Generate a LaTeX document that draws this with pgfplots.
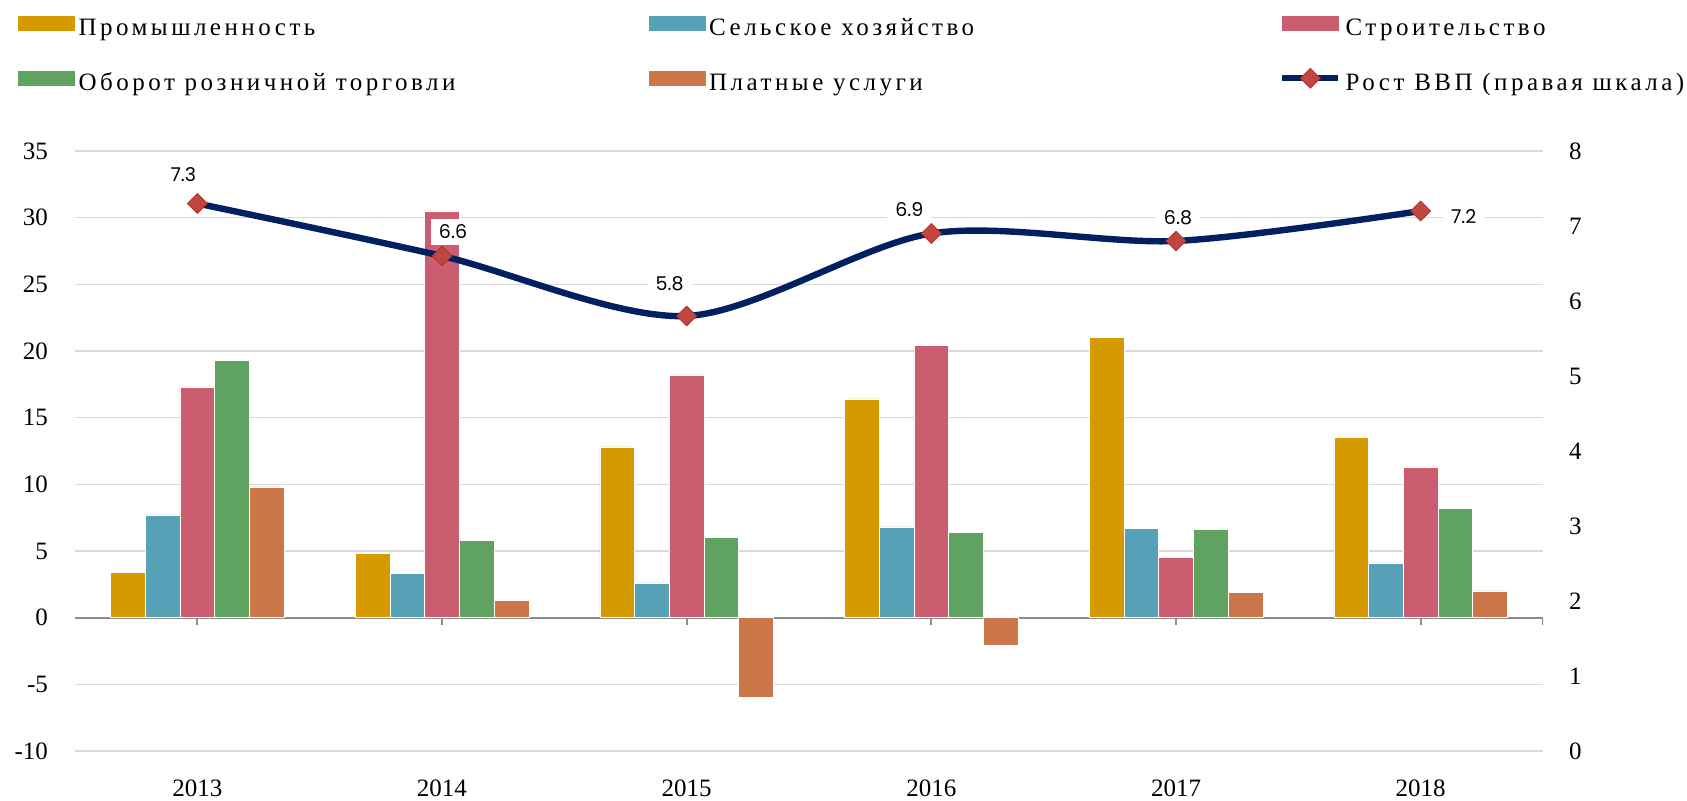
\documentclass[border=0pt]{standalone}
\usepackage{pgfplots}
\usepackage{pgfplotstable}
\pgfplotsset{compat=1.18}
\usepackage{fontspec}
\setmainfont{Liberation Serif}
\newfontfamily\legfont{Liberation Serif}[LetterSpace=14]
\newfontfamily\lblfont{Poppins}

\definecolor{cInd}{RGB}{212,154,0}
\definecolor{cAgr}{RGB}{86,161,182}
\definecolor{cCon}{RGB}{203,94,110}
\definecolor{cRet}{RGB}{96,163,97}
\definecolor{cSrv}{RGB}{204,119,73}
\definecolor{cNavy}{RGB}{0,32,96}
\definecolor{cMk}{RGB}{192,70,63}
\definecolor{cMkD}{RGB}{170,52,48}
\definecolor{cGrid}{RGB}{217,217,217}
\definecolor{cAx}{RGB}{140,140,140}

\pgfplotsset{
  mybar/.style={ybar, bar width=0.142, fill=#1, draw=white, line width=0.3pt,
    legend image code/.code={\fill[#1] (0pt,-0.5pt) rectangle (28pt,6.5pt);}},
  gdpstyle/.style={color=cNavy, line width=3.2pt, mark=square*, mark size=3.5pt,
    mark options={rotate=45, fill=cMk, draw=cMkD, line width=0.4pt, solid}},
  gdpleg/.style={legend image code/.code={\draw[mark repeat=2,mark phase=2,##1] plot coordinates {(0pt,3pt) (14pt,3pt) (28pt,3pt)};}},
}

\pgfplotstableread{
x y dx dy lab
0 7.3 -7 14.5 7.3
1 6.6 5.5 12 6.6
2 5.8 -8.5 16 5.8
3 6.9 -11 12 6.9
4 6.8 1 11.5 6.8
5 7.2 21.5 -3 7.2
}\gdpdata

\newcommand{\lw}[1]{\makebox[287pt][l]{\hspace{2pt}#1}}

\begin{document}
\begin{tikzpicture}
\begin{axis}[
  at={(0pt,0pt)}, anchor=south west,
  scale only axis, width=734pt, height=300pt,
  xmin=-0.5, xmax=5.5, ymin=-10, ymax=35,
  xtick={0,1,2,3,4,5},
  xticklabels={2013,2014,2015,2016,2017,2018},
  ytick={-10,-5,0,5,10,15,20,25,30,35},
  yticklabels={-10,-5,0,5,10,15,20,25,30,35},
  major tick length=0pt,
  axis line style={draw=none},
  ymajorgrids,
  grid style={color=cGrid, line width=0.8pt},
  extra y ticks={0}, extra y tick labels={},
  extra y tick style={grid style={color=cAx, line width=1pt}},
  ticklabel style={font=\fontsize{12.5}{14}\selectfont},
  yticklabel style={xshift=-10pt},
  xticklabel style={yshift=-11pt},
  legend columns=3,
  legend cell align=left,
  legend style={draw=none, fill=none, inner sep=0pt, outer sep=0pt,
    at={(0,1)}, anchor=north west, xshift=-28.5pt, yshift=67.5pt,
    font=\legfont\fontsize{12.5}{14}\selectfont,
    row sep=14pt,
    /tikz/every odd column/.style={column sep=0pt},
    /tikz/every even column/.style={column sep=0pt},
    nodes={inner sep=0pt, text height=8.5pt, text depth=2.5pt}},
]
\addplot[mybar=cInd, bar shift=-0.284] coordinates {(0,3.4) (1,4.8) (2,12.8) (3,16.4) (4,21.0) (5,13.5)};
\addlegendentry{\lw{Промышленность}}
\addplot[mybar=cAgr, bar shift=-0.142] coordinates {(0,7.7) (1,3.3) (2,2.6) (3,6.8) (4,6.7) (5,4.1)};
\addlegendentry{\lw{Сельское хозяйство}}
\addplot[mybar=cCon, bar shift=0] coordinates {(0,17.3) (1,30.5) (2,18.2) (3,20.4) (4,4.5) (5,11.3)};
\addlegendentry{\hspace{2pt}Строительство}
\addplot[mybar=cRet, bar shift=0.142] coordinates {(0,19.3) (1,5.8) (2,6.0) (3,6.4) (4,6.6) (5,8.2)};
\addlegendentry{\lw{Оборот розничной торговли}}
\addplot[mybar=cSrv, bar shift=0.284] coordinates {(0,9.8) (1,1.3) (2,-6.0) (3,-2.1) (4,1.9) (5,2.0)};
\addlegendentry{\lw{Платные услуги}}
\addlegendimage{gdpstyle, gdpleg}
\addlegendentry{\hspace{2pt}Рост ВВП (правая шкала)}
\pgfplotsinvokeforeach{0,1,2,3,4,5,5.5}{
  \draw[cAx, line width=1pt] (axis cs:#1,0) -- ([yshift=-3.5pt]axis cs:#1,0);
}
\end{axis}
\begin{axis}[
  at={(0pt,0pt)}, anchor=south west,
  scale only axis, width=734pt, height=300pt,
  xmin=-0.5, xmax=5.5, ymin=0, ymax=8,
  axis x line=none,
  axis y line*=right,
  y axis line style={draw=none},
  ytick={0,1,2,3,4,5,6,7,8},
  yticklabels={0,1,2,3,4,5,6,7,8},
  major tick length=0pt,
  ticklabel style={font=\fontsize{12.5}{14}\selectfont},
  yticklabel style={xshift=9.5pt},
  clip=false,
]
\addplot[gdpstyle, smooth,
  point meta=explicit symbolic,
  visualization depends on={\thisrow{dx} \as \dx},
  visualization depends on={\thisrow{dy} \as \dy},
  nodes near coords,
  nodes near coords style={anchor=center, xshift=\dx pt, yshift=\dy pt,
    font=\lblfont\fontsize{9.5}{11}\selectfont, text=black, fill=white,
    inner xsep=4pt, inner ysep=3pt},
] table[x=x, y=y, meta=lab] {\gdpdata};
\end{axis}
\pgfresetboundingbox
\useasboundingbox (-37.5pt,-25pt) rectangle (806pt,375.5pt);
\end{tikzpicture}
\end{document}
